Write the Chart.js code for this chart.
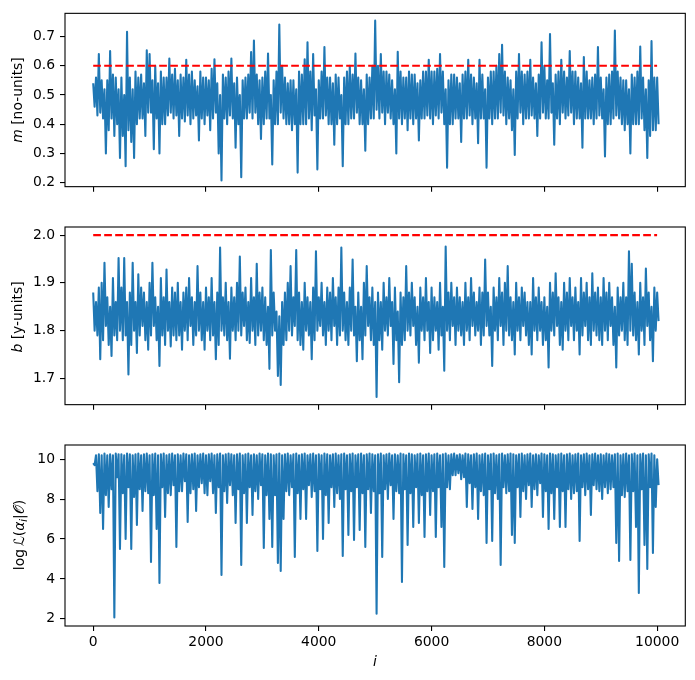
<!DOCTYPE html>
<html>
<head>
<meta charset="utf-8">
<script src="https://cdn.jsdelivr.net/npm/chart.js@4.4.0/dist/chart.umd.min.js"></script>
<style>
  body { margin: 0; background: #fff; }
  #fig { position: relative; width: 695px; height: 680px; font-family: "DejaVu Sans", sans-serif; font-size: 13.9px; color: #000; }
  #fig canvas { position: absolute; left: 0; }
  .ylab { position: absolute; transform: translate(-50%, -50%) rotate(-90deg); white-space: nowrap; line-height: 1; }
  .xlab { position: absolute; transform: translate(-50%, -50%); line-height: 1; }
  sub { font-size: 70%; vertical-align: -0.25em; }
</style>
</head>
<body>
<div id="fig">
  <canvas id="traceM" width="695" height="200" style="top:0px"></canvas>
  <canvas id="traceB" width="695" height="218" style="top:200px"></canvas>
  <canvas id="traceL" width="695" height="262" style="top:418px"></canvas>
  <div class="ylab" style="left:18px;top:100px"><i>m</i> [no-units]</div>
  <div class="ylab" style="left:18px;top:317px"><i>b</i> [y-units]</div>
  <div class="ylab" style="left:21px;top:535px">log&#8201;ℒ(<i>α</i><sub><i>i</i></sub>|𝒪)</div>
  <div class="xlab" style="left:375px;top:662px"><i>i</i></div>
</div>
<script>
// The chains in bins of 50 iterations (0 .. 10000):
// for every bin the highest and the lowest value the trace reaches.
const BIN = 50;

const mHigh = [
  0.54, 0.56, 0.64, 0.55, 0.52, 0.55, 0.65, 0.57, 0.56, 0.52,
  0.56, 0.50, 0.716, 0.56, 0.52, 0.58, 0.56, 0.57, 0.54, 0.653,
  0.64, 0.55, 0.60, 0.54, 0.58, 0.56, 0.56, 0.625, 0.57, 0.59,
  0.55, 0.57, 0.56, 0.62, 0.57, 0.58, 0.55, 0.53, 0.58, 0.56,
  0.56, 0.55, 0.59, 0.622, 0.54, 0.50, 0.57, 0.56, 0.58, 0.625,
  0.54, 0.56, 0.50, 0.55, 0.56, 0.57, 0.647, 0.686, 0.57, 0.55,
  0.56, 0.58, 0.642, 0.50, 0.55, 0.58, 0.741, 0.60, 0.56, 0.54,
  0.55, 0.55, 0.52, 0.58, 0.57, 0.622, 0.68, 0.58, 0.64, 0.52,
  0.55, 0.58, 0.664, 0.56, 0.56, 0.54, 0.57, 0.56, 0.50, 0.56,
  0.58, 0.60, 0.57, 0.642, 0.56, 0.55, 0.52, 0.57, 0.56, 0.60,
  0.754, 0.60, 0.64, 0.58, 0.58, 0.57, 0.55, 0.52, 0.648, 0.58,
  0.56, 0.56, 0.58, 0.57, 0.57, 0.54, 0.55, 0.58, 0.58, 0.62,
  0.58, 0.58, 0.59, 0.64, 0.58, 0.52, 0.55, 0.57, 0.57, 0.56,
  0.54, 0.57, 0.58, 0.62, 0.57, 0.56, 0.54, 0.62, 0.57, 0.52,
  0.56, 0.58, 0.58, 0.60, 0.64, 0.672, 0.58, 0.56, 0.55, 0.52,
  0.58, 0.64, 0.58, 0.57, 0.58, 0.62, 0.56, 0.54, 0.57, 0.68,
  0.60, 0.55, 0.708, 0.54, 0.57, 0.58, 0.62, 0.58, 0.56, 0.65,
  0.58, 0.58, 0.56, 0.54, 0.63, 0.58, 0.55, 0.56, 0.57, 0.664,
  0.56, 0.52, 0.56, 0.57, 0.58, 0.72, 0.58, 0.56, 0.55, 0.55,
  0.52, 0.57, 0.56, 0.58, 0.666, 0.56, 0.52, 0.55, 0.684, 0.56,
  0.56
];
const mLow = [
  0.46, 0.43, 0.44, 0.42, 0.30, 0.38, 0.42, 0.36, 0.40, 0.285,
  0.36, 0.257, 0.38, 0.34, 0.285, 0.40, 0.42, 0.42, 0.36, 0.44,
  0.44, 0.315, 0.42, 0.30, 0.40, 0.40, 0.43, 0.44, 0.42, 0.43,
  0.36, 0.42, 0.41, 0.43, 0.40, 0.42, 0.43, 0.345, 0.42, 0.40,
  0.43, 0.38, 0.42, 0.44, 0.30, 0.208, 0.42, 0.40, 0.43, 0.42,
  0.32, 0.40, 0.219, 0.42, 0.42, 0.44, 0.42, 0.44, 0.40, 0.35,
  0.40, 0.42, 0.42, 0.263, 0.40, 0.40, 0.44, 0.42, 0.40, 0.40,
  0.38, 0.40, 0.235, 0.40, 0.40, 0.40, 0.42, 0.38, 0.43, 0.246,
  0.42, 0.42, 0.43, 0.40, 0.40, 0.33, 0.40, 0.42, 0.257, 0.40,
  0.40, 0.42, 0.42, 0.44, 0.40, 0.40, 0.31, 0.40, 0.42, 0.42,
  0.45, 0.42, 0.44, 0.40, 0.44, 0.42, 0.40, 0.30, 0.42, 0.40,
  0.42, 0.38, 0.42, 0.40, 0.42, 0.345, 0.42, 0.42, 0.43, 0.42,
  0.40, 0.43, 0.42, 0.44, 0.40, 0.252, 0.40, 0.40, 0.42, 0.42,
  0.34, 0.42, 0.42, 0.43, 0.40, 0.42, 0.335, 0.42, 0.42, 0.252,
  0.42, 0.40, 0.42, 0.42, 0.44, 0.43, 0.40, 0.42, 0.38, 0.295,
  0.42, 0.44, 0.40, 0.42, 0.42, 0.43, 0.42, 0.36, 0.42, 0.44,
  0.42, 0.42, 0.44, 0.33, 0.42, 0.40, 0.44, 0.42, 0.43, 0.44,
  0.40, 0.42, 0.42, 0.32, 0.42, 0.42, 0.42, 0.40, 0.42, 0.43,
  0.42, 0.29, 0.40, 0.40, 0.42, 0.43, 0.42, 0.40, 0.38, 0.40,
  0.30, 0.40, 0.40, 0.40, 0.42, 0.38, 0.285, 0.36, 0.38, 0.38,
  0.40
];

const bHigh = [
  1.88, 1.86, 1.89, 1.90, 1.942, 1.87, 1.85, 1.91, 1.86, 1.952,
  1.89, 1.952, 1.86, 1.88, 1.942, 1.86, 1.918, 1.89, 1.88, 1.86,
  1.90, 1.942, 1.87, 1.85, 1.91, 1.87, 1.928, 1.86, 1.89, 1.88,
  1.90, 1.86, 1.88, 1.89, 1.91, 1.87, 1.86, 1.935, 1.88, 1.86,
  1.89, 1.87, 1.91, 1.86, 1.88, 1.974, 1.87, 1.90, 1.86, 1.89,
  1.87, 1.90, 1.955, 1.88, 1.89, 1.86, 1.91, 1.87, 1.94, 1.88,
  1.89, 1.87, 1.85, 1.969, 1.88, 1.84, 1.83, 1.86, 1.88, 1.90,
  1.935, 1.87, 1.969, 1.88, 1.86, 1.90, 1.87, 1.86, 1.89, 1.966,
  1.87, 1.90, 1.86, 1.89, 1.88, 1.91, 1.87, 1.89, 1.974, 1.88,
  1.86, 1.89, 1.949, 1.85, 1.88, 1.85, 1.90, 1.935, 1.87, 1.89,
  1.86, 1.88, 1.86, 1.90, 1.87, 1.91, 1.86, 1.89, 1.84, 1.88,
  1.87, 1.935, 1.88, 1.90, 1.87, 1.85, 1.89, 1.87, 1.91, 1.86,
  1.89, 1.87, 1.86, 1.90, 1.85, 1.976, 1.88, 1.90, 1.87, 1.89,
  1.87, 1.86, 1.90, 1.87, 1.91, 1.88, 1.86, 1.89, 1.88, 1.949,
  1.88, 1.85, 1.89, 1.87, 1.91, 1.88, 1.90, 1.935, 1.87, 1.86,
  1.90, 1.87, 1.89, 1.88, 1.86, 1.86, 1.91, 1.87, 1.89, 1.86,
  1.87, 1.85, 1.90, 1.88, 1.92, 1.87, 1.86, 1.90, 1.88, 1.91,
  1.87, 1.89, 1.86, 1.91, 1.88, 1.90, 1.87, 1.92, 1.88, 1.89,
  1.87, 1.91, 1.88, 1.90, 1.87, 1.85, 1.89, 1.87, 1.90, 1.87,
  1.966, 1.94, 1.88, 1.86, 1.90, 1.87, 1.93, 1.88, 1.85, 1.89,
  1.88
];
const bLow = [
  1.80, 1.79, 1.74, 1.78, 1.81, 1.77, 1.747, 1.79, 1.78, 1.80,
  1.78, 1.79, 1.708, 1.77, 1.80, 1.753, 1.79, 1.81, 1.78, 1.76,
  1.79, 1.81, 1.78, 1.726, 1.79, 1.77, 1.80, 1.767, 1.79, 1.78,
  1.79, 1.76, 1.80, 1.78, 1.81, 1.77, 1.79, 1.80, 1.78, 1.76,
  1.80, 1.78, 1.79, 1.74, 1.77, 1.80, 1.79, 1.78, 1.741, 1.80,
  1.78, 1.80, 1.79, 1.81, 1.78, 1.774, 1.80, 1.77, 1.79, 1.80,
  1.78, 1.77, 1.72, 1.79, 1.80, 1.705, 1.686, 1.77, 1.78, 1.80,
  1.79, 1.81, 1.78, 1.77, 1.76, 1.80, 1.79, 1.74, 1.78, 1.80,
  1.81, 1.79, 1.77, 1.80, 1.78, 1.81, 1.77, 1.79, 1.80, 1.78,
  1.77, 1.80, 1.79, 1.736, 1.78, 1.74, 1.79, 1.81, 1.78, 1.77,
  1.661, 1.78, 1.76, 1.80, 1.79, 1.81, 1.73, 1.78, 1.692, 1.77,
  1.78, 1.80, 1.79, 1.81, 1.77, 1.733, 1.80, 1.78, 1.80, 1.753,
  1.78, 1.80, 1.76, 1.79, 1.716, 1.80, 1.78, 1.81, 1.77, 1.80,
  1.79, 1.77, 1.80, 1.78, 1.81, 1.79, 1.80, 1.77, 1.79, 1.81,
  1.79, 1.726, 1.80, 1.78, 1.81, 1.77, 1.80, 1.79, 1.78, 1.75,
  1.80, 1.78, 1.81, 1.79, 1.77, 1.75, 1.80, 1.78, 1.80, 1.77,
  1.78, 1.723, 1.80, 1.79, 1.81, 1.77, 1.76, 1.80, 1.78, 1.81,
  1.78, 1.80, 1.75, 1.79, 1.81, 1.78, 1.77, 1.80, 1.79, 1.78,
  1.77, 1.80, 1.78, 1.81, 1.77, 1.723, 1.79, 1.80, 1.78, 1.77,
  1.80, 1.79, 1.78, 1.75, 1.80, 1.77, 1.81, 1.78, 1.736, 1.80,
  1.82
];

const logLHigh = [
  9.8, 10.2, 10.25, 10.2, 10.28, 10.2, 10.25, 10.2, 10.28, 10.25,
  10.25, 10.2, 10.28, 10.25, 10.2, 10.25, 10.28, 10.2, 10.25, 10.28,
  10.2, 10.25, 10.28, 10.2, 10.25, 10.28, 10.2, 10.25, 10.28, 10.2,
  10.25, 10.2, 10.28, 10.25, 10.2, 10.25, 10.28, 10.2, 10.25, 10.28,
  10.2, 10.25, 10.28, 10.2, 10.25, 10.28, 10.2, 10.25, 10.28, 10.25,
  10.2, 10.25, 10.28, 10.2, 10.25, 10.28, 10.2, 10.25, 10.2, 10.28,
  10.25, 10.2, 10.28, 10.25, 10.2, 10.25, 10.28, 10.2, 10.25, 10.28,
  10.2, 10.25, 10.28, 10.2, 10.25, 10.28, 10.2, 10.25, 10.28, 10.2,
  10.25, 10.2, 10.28, 10.25, 10.2, 10.25, 10.28, 10.2, 10.25, 10.28,
  10.2, 10.25, 10.28, 10.2, 10.25, 10.28, 10.2, 10.25, 10.28, 10.25,
  10.2, 10.25, 10.28, 10.2, 10.25, 10.28, 10.2, 10.25, 10.2, 10.28,
  10.25, 10.2, 10.28, 10.25, 10.2, 10.25, 10.28, 10.2, 10.25, 10.28,
  10.2, 10.25, 10.28, 10.2, 10.25, 10.28, 10.2, 10.25, 10.28, 10.2,
  10.25, 10.2, 10.28, 10.25, 10.2, 10.25, 10.28, 10.2, 10.25, 10.28,
  10.2, 10.25, 10.28, 10.2, 10.25, 10.28, 10.2, 10.25, 10.28, 10.25,
  10.2, 10.25, 10.28, 10.2, 10.25, 10.28, 10.2, 10.25, 10.2, 10.28,
  10.25, 10.2, 10.28, 10.25, 10.2, 10.25, 10.28, 10.2, 10.25, 10.28,
  10.2, 10.25, 10.28, 10.2, 10.25, 10.28, 10.2, 10.25, 10.28, 10.2,
  10.25, 10.2, 10.28, 10.25, 10.2, 10.25, 10.28, 10.2, 10.25, 10.28,
  10.2, 10.25, 10.28, 10.2, 10.25, 10.28, 10.2, 10.25, 10.28, 10.2,
  10.0
];
const logLLow = [
  9.7, 8.4, 7.3, 6.5, 8.2, 7.6, 8.5, 2.07, 9.1, 5.5,
  8.3, 6.0, 8.6, 5.5, 8.1, 6.7, 8.5, 7.4, 8.4, 8.3,
  4.85, 8.2, 6.5, 3.8, 8.6, 7.1, 8.3, 8.2, 8.7, 5.6,
  8.4, 8.4, 8.9, 6.85, 8.3, 8.5, 7.4, 8.6, 8.8, 8.3,
  8.2, 8.9, 8.3, 7.3, 8.6, 4.2, 8.4, 7.8, 8.7, 8.2,
  6.8, 8.5, 4.7, 8.3, 6.8, 8.6, 7.2, 8.4, 8.0, 8.7,
  5.55, 8.2, 7.0, 5.6, 8.2, 4.8, 4.4, 7.0, 8.4, 8.2,
  8.6, 5.1, 8.3, 7.0, 8.5, 7.0, 8.7, 8.1, 8.4, 5.4,
  8.5, 6.0, 8.2, 6.8, 8.6, 7.6, 8.3, 8.0, 5.15, 8.5,
  6.2, 8.4, 5.95, 8.6, 6.45, 8.3, 5.6, 8.5, 7.3, 8.4,
  2.25, 8.3, 5.1, 8.5, 8.0, 8.7, 7.0, 8.4, 8.3, 3.85,
  8.5, 5.7, 8.3, 6.6, 8.6, 6.8, 8.2, 6.1, 8.4, 7.2,
  8.4, 6.1, 8.6, 6.6, 4.6, 8.6, 8.5, 9.2, 9.2, 9.3,
  9.0, 9.1, 7.6, 8.8, 7.5, 8.6, 7.0, 8.4, 8.2, 5.8,
  8.5, 5.9, 8.3, 8.0, 4.7, 8.6, 8.3, 8.4, 6.2, 5.8,
  8.6, 7.1, 8.4, 8.0, 8.7, 7.6, 8.5, 8.2, 8.8, 7.1,
  8.4, 6.5, 8.3, 7.0, 8.6, 6.6, 8.4, 6.6, 8.5, 8.0,
  8.3, 8.4, 5.9, 8.6, 8.2, 8.5, 7.2, 8.7, 8.5, 8.4,
  8.0, 8.6, 8.3, 8.5, 8.6, 5.8, 4.9, 8.2, 8.1, 8.4,
  4.95, 8.4, 6.6, 3.3, 8.5, 5.7, 4.5, 8.6, 5.3, 7.6,
  8.7
];

// true parameter values (red dashed reference lines)
const mTrue = 0.6;
const bTrue = 2.0;
const truthSpan = [0, 9999];

const xTicks = [0, 2000, 4000, 6000, 8000, 10000];
const mTicks = [0.2, 0.3, 0.4, 0.5, 0.6, 0.7];
const bTicks = [1.7, 1.8, 1.9, 2.0];
const logLTicks = [2, 4, 6, 8, 10];

const BLUE = '#1f77b4';
const LW = 2.08;

Chart.defaults.font.family = "'DejaVu Sans', sans-serif";
Chart.defaults.font.size = 13.9;
Chart.defaults.color = '#000';

// matplotlib-style closed box around the plot area
const framePlugin = {
    id: 'frame',
    afterDraw(chart) {
        const a = chart.chartArea;
        const ctx = chart.ctx;
        ctx.save();
        ctx.strokeStyle = '#000';
        ctx.lineWidth = 1.1;
        ctx.strokeRect(a.left, a.top, a.right - a.left, a.bottom - a.top);
        ctx.restore();
    }
};

// walk each bin from its high to its low, so the trace reads as a dense band
function binnedTrace(high, low) {
    return high.flatMap((h, k) => [
        { x: k * BIN, y: h },
        { x: k * BIN + BIN / 2, y: low[k] }
    ]);
}

function tracePanel(canvasId, high, low, truth, yMin, yMax, yTicks, decimals, padTop, xHeight, showXLabels) {
    const datasets = [{
        data: binnedTrace(high, low),
        borderColor: BLUE,
        borderWidth: LW,
        borderJoinStyle: 'round',
        pointRadius: 0,
        order: 1
    }];
    if (truth !== null) {
        datasets.push({
            data: truthSpan.map(x => ({ x: x, y: truth })),
            borderColor: '#ff0000',
            borderWidth: LW,
            borderDash: [7.7, 3.3],
            pointRadius: 0,
            order: 0
        });
    }
    const tickGrid = { display: true, drawOnChartArea: false, drawTicks: true, tickLength: 5, color: '#000', lineWidth: 1.1 };
    return new Chart(document.getElementById(canvasId), {
        type: 'line',
        data: { datasets: datasets },
        options: {
            responsive: false,
            animation: false,
            events: [],
            layout: { padding: { top: padTop, right: 9.7, left: 0, bottom: 0 } },
            plugins: { legend: { display: false }, tooltip: { enabled: false } },
            scales: {
                x: {
                    type: 'linear', min: -500, max: 10499,
                    afterBuildTicks: s => { s.ticks = xTicks.map(v => ({ value: v })); },
                    afterFit: s => { s.height = xHeight; },
                    border: { display: false },
                    grid: tickGrid,
                    ticks: { display: showXLabels, padding: 3, maxRotation: 0, callback: v => String(v) }
                },
                y: {
                    type: 'linear', min: yMin, max: yMax,
                    afterBuildTicks: s => { s.ticks = yTicks.map(v => ({ value: v })); },
                    afterFit: s => { s.width = 65; },
                    border: { display: false },
                    grid: tickGrid,
                    ticks: { padding: 5, callback: v => v.toFixed(decimals) }
                }
            }
        },
        plugins: [framePlugin]
    });
}

tracePanel('traceM', mHigh, mLow, mTrue, 0.187, 0.779, mTicks, 1, 10, 10, false);
tracePanel('traceB', bHigh, bLow, bTrue, 1.645, 2.017, bTicks, 1, 27, 10, false);
tracePanel('traceL', logLHigh, logLLow, null, 1.64, 10.71, logLTicks, 0, 27, 54, true);
</script>
</body>
</html>
